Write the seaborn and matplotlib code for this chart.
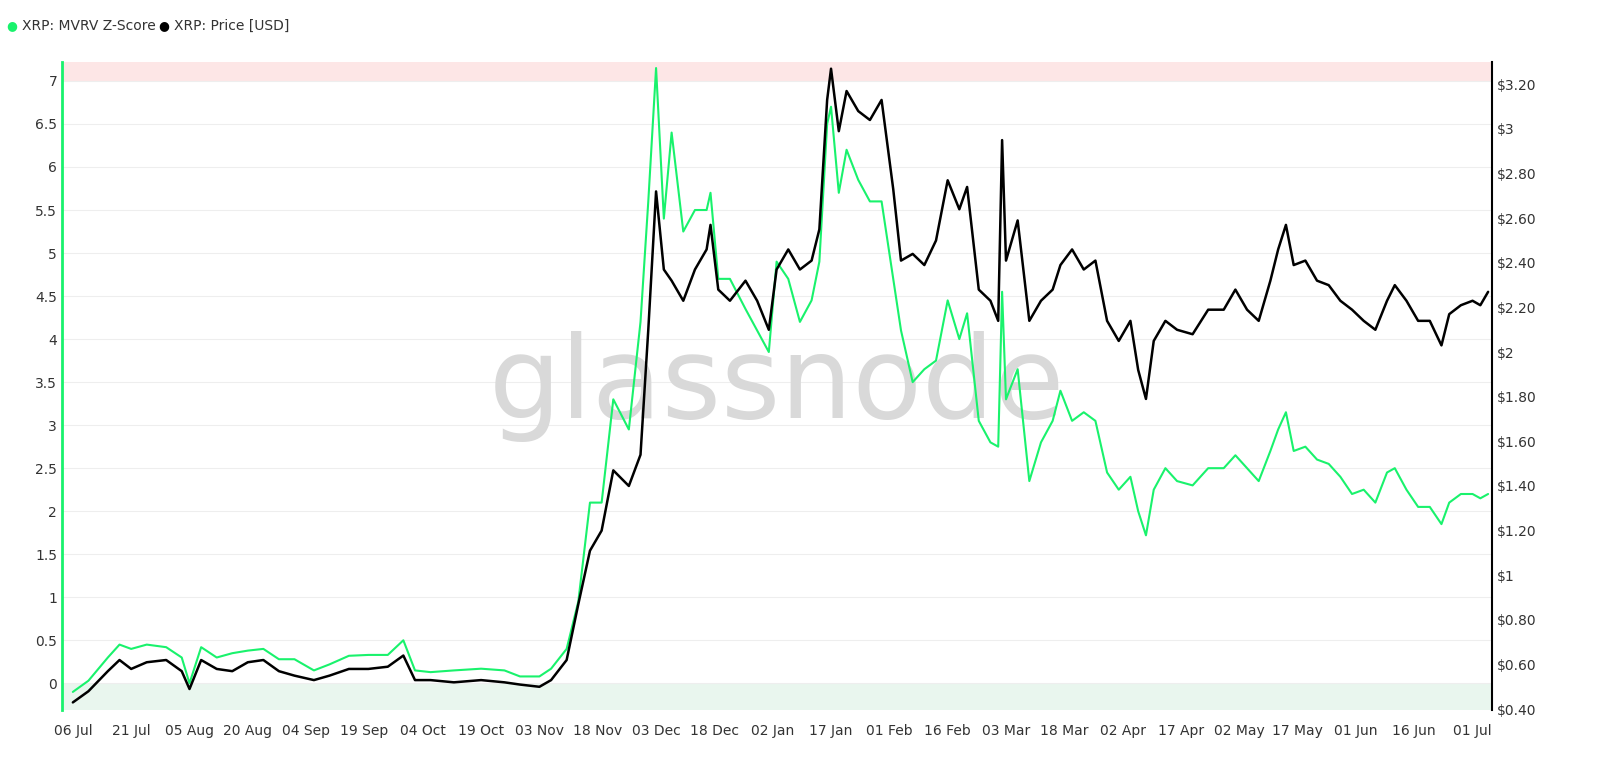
import matplotlib
matplotlib.use("Agg")
import matplotlib.pyplot as plt
import matplotlib.dates as mdates
import seaborn as sns
import pandas as pd
import numpy as np

dates = ["2024-07-06","2024-07-10","2024-07-15","2024-07-18","2024-07-21","2024-07-25","2024-07-30","2024-08-03","2024-08-05","2024-08-08","2024-08-12","2024-08-16","2024-08-20","2024-08-24","2024-08-28","2024-09-01","2024-09-06","2024-09-10","2024-09-15","2024-09-20","2024-09-25","2024-09-29","2024-10-02","2024-10-06","2024-10-12","2024-10-19","2024-10-25","2024-10-29","2024-11-03","2024-11-06","2024-11-10","2024-11-13","2024-11-16","2024-11-19","2024-11-22","2024-11-26","2024-11-29","2024-12-01","2024-12-03","2024-12-05","2024-12-07","2024-12-10","2024-12-13","2024-12-16","2024-12-17","2024-12-19","2024-12-22","2024-12-26","2024-12-29","2025-01-01","2025-01-03","2025-01-06","2025-01-09","2025-01-12","2025-01-14","2025-01-16","2025-01-17","2025-01-19","2025-01-21","2025-01-24","2025-01-27","2025-01-30","2025-02-02","2025-02-04","2025-02-07","2025-02-10","2025-02-13","2025-02-16","2025-02-19","2025-02-21","2025-02-24","2025-02-27","2025-03-01","2025-03-02","2025-03-03","2025-03-06","2025-03-09","2025-03-12","2025-03-15","2025-03-17","2025-03-20","2025-03-23","2025-03-26","2025-03-29","2025-04-01","2025-04-04","2025-04-06","2025-04-08","2025-04-10","2025-04-13","2025-04-16","2025-04-20","2025-04-24","2025-04-28","2025-05-01","2025-05-04","2025-05-07","2025-05-10","2025-05-12","2025-05-14","2025-05-16","2025-05-19","2025-05-22","2025-05-25","2025-05-28","2025-05-31","2025-06-03","2025-06-06","2025-06-09","2025-06-11","2025-06-14","2025-06-17","2025-06-20","2025-06-23","2025-06-25","2025-06-28","2025-07-01","2025-07-03","2025-07-05"]

price = [0.43,0.48,0.57,0.62,0.58,0.61,0.62,0.57,0.49,0.62,0.58,0.57,0.61,0.62,0.57,0.55,0.53,0.55,0.58,0.58,0.59,0.64,0.53,0.53,0.52,0.53,0.52,0.51,0.50,0.53,0.62,0.87,1.11,1.20,1.47,1.40,1.54,2.10,2.72,2.37,2.32,2.23,2.37,2.46,2.57,2.28,2.23,2.32,2.23,2.10,2.37,2.46,2.37,2.41,2.55,3.13,3.27,2.99,3.17,3.08,3.04,3.13,2.73,2.41,2.44,2.39,2.50,2.77,2.64,2.74,2.28,2.23,2.14,2.95,2.41,2.59,2.14,2.23,2.28,2.39,2.46,2.37,2.41,2.14,2.05,2.14,1.92,1.79,2.05,2.14,2.10,2.08,2.19,2.19,2.28,2.19,2.14,2.32,2.46,2.57,2.39,2.41,2.32,2.30,2.23,2.19,2.14,2.10,2.23,2.30,2.23,2.14,2.14,2.03,2.17,2.21,2.23,2.21,2.27]

zscore = [-0.1,0.03,0.3,0.45,0.4,0.45,0.42,0.3,0.0,0.42,0.3,0.35,0.38,0.4,0.28,0.28,0.15,0.22,0.32,0.33,0.33,0.5,0.15,0.13,0.15,0.17,0.15,0.08,0.08,0.17,0.4,0.95,2.1,2.1,3.3,2.95,4.2,5.6,7.15,5.4,6.4,5.25,5.5,5.5,5.7,4.7,4.7,4.35,4.1,3.85,4.9,4.7,4.2,4.45,4.9,6.5,6.7,5.7,6.2,5.85,5.6,5.6,4.7,4.1,3.5,3.65,3.75,4.45,4.0,4.3,3.05,2.8,2.75,4.55,3.3,3.65,2.35,2.8,3.05,3.4,3.05,3.15,3.05,2.45,2.25,2.4,2.0,1.72,2.25,2.5,2.35,2.3,2.5,2.5,2.65,2.5,2.35,2.7,2.95,3.15,2.7,2.75,2.6,2.55,2.4,2.2,2.25,2.1,2.45,2.5,2.25,2.05,2.05,1.85,2.1,2.2,2.2,2.15,2.2]

tick_dates = ["2024-07-06","2024-07-21","2024-08-05","2024-08-20","2024-09-04","2024-09-19","2024-10-04","2024-10-19","2024-11-03","2024-11-18","2024-12-03","2024-12-18","2025-01-02","2025-01-17","2025-02-01","2025-02-16","2025-03-03","2025-03-18","2025-04-02","2025-04-17","2025-05-02","2025-05-17","2025-06-01","2025-06-16","2025-07-01"]
left_ticks = [0,0.5,1,1.5,2,2.5,3,3.5,4,4.5,5,5.5,6,6.5,7]
left_labels = ["0","0.5","1","1.5","2","2.5","3","3.5","4","4.5","5","5.5","6","6.5","7"]
right_ticks = [0.4,0.6,0.8,1.0,1.2,1.4,1.6,1.8,2.0,2.2,2.4,2.6,2.8,3.0,3.2]
right_labels = ["$0.40","$0.60","$0.80","$1","$1.20","$1.40","$1.60","$1.80","$2","$2.20","$2.40","$2.60","$2.80","$3","$3.20"]

df = pd.DataFrame({"date": pd.to_datetime(dates), "price": price, "z": zscore})
GREEN = "#19f26c"
sns.set_style("white")
plt.rcParams['font.family'] = ['DejaVu Sans']

fig = plt.figure(figsize=(16, 7.77), dpi=100)
ax = fig.add_axes([62/1600, 1-710/777, 1430/1600, 648/777])
ax2 = ax.twinx()

x0 = pd.Timestamp("2024-07-03 05:00")
x1 = pd.Timestamp("2025-07-06")
ax.axhspan(7, 7.3, color="#fde6e6", lw=0, zorder=0)
ax.axhspan(-0.4, 0, color="#e9f6ee", lw=0, zorder=0)
for t in left_ticks:
    ax.axhline(t, color="#eeeeee", lw=0.8, zorder=0)
ax.text(0.5, 0.5, "glassnode", transform=ax.transAxes, fontsize=82, color="#d9d9d9",
        ha="center", va="center", zorder=1)

sns.lineplot(data=df, x="date", y="z", ax=ax, color=GREEN, lw=1.5, zorder=3)
sns.lineplot(data=df, x="date", y="price", ax=ax2, color="black", lw=1.8, zorder=4)

ax.set_xlim(x0, x1)
ax.set_ylim(-0.31, 7.22)
ax2.set_ylim(0.396, 3.30)
ax.set_yticks(left_ticks, left_labels)
ax2.set_yticks(right_ticks, right_labels)
ax.set_xticks(pd.to_datetime(tick_dates))
ax.xaxis.set_major_formatter(mdates.DateFormatter("%d %b"))
for a in (ax, ax2):
    a.set_xlabel(""); a.set_ylabel("")
    a.tick_params(labelsize=10, colors="#333333", length=0)
    for s in a.spines.values():
        s.set_visible(False)
ax2.spines["right"].set_visible(True); ax2.spines["right"].set_color("black"); ax2.spines["right"].set_linewidth(1.5)
ax2.spines["left"].set_visible(True); ax2.spines["left"].set_color(GREEN); ax2.spines["left"].set_linewidth(2)
ax.tick_params(axis="x", pad=10)

fig.text(0.004, 0.967, "●", color=GREEN, fontsize=9, va="center")
fig.text(0.014, 0.967, "XRP: MVRV Z-Score", color="#333333", fontsize=10, va="center")
fig.text(0.099, 0.967, "●", color="black", fontsize=9, va="center")
fig.text(0.109, 0.967, "XRP: Price [USD]", color="#333333", fontsize=10, va="center")
fig.savefig("out.png", dpi=100, facecolor="white")
